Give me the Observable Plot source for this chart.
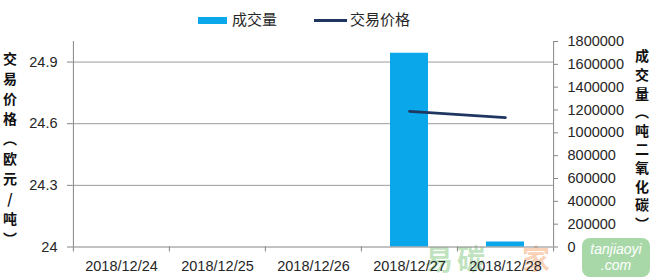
<!DOCTYPE html>
<html>
<head>
<meta charset="utf-8">
<script src="https://cdn.jsdelivr.net/npm/d3@7"></script>
<script src="https://cdn.jsdelivr.net/npm/@observablehq/plot@0.6"></script>
<style>
  html, body { margin: 0; padding: 0; background: #fff; }
  #wrap { position: relative; width: 658px; height: 279px; overflow: hidden;
          font-family: "Liberation Sans", Arial, "Noto Sans CJK SC", sans-serif; }
  #chart { position: absolute; left: 0; top: 0; }
  .legend-text { position: absolute; font-family: "Noto Sans CJK SC", sans-serif;
                 font-size: 15px; color: #262626; line-height: 1; }
  .vtitle { position: absolute; writing-mode: vertical-rl; text-orientation: upright;
            font-family: "Noto Sans CJK SC", sans-serif; font-weight: bold;
            font-size: 14px; color: #111; line-height: 1; }
  .logo { position: absolute; font-family: "Noto Sans CJK SC", sans-serif; font-weight: bold; line-height: 1; }
</style>
</head>
<body>
<div id="wrap">
  <!-- site mark, drawn beneath the chart -->
  <div class="logo" style="left:425px;top:244px;font-size:28px;letter-spacing:4px;color:rgba(110,190,110,0.45);">易碳</div>
  <div class="logo" style="left:522px;top:244px;font-size:28px;color:rgba(240,150,90,0.45);">家</div>
  <div style="position:absolute;left:582px;top:238px;width:68px;height:39px;border-radius:8px;background:rgba(110,190,110,0.6);
              color:#fff;font-family:'Liberation Sans',Arial,sans-serif;font-style:italic;font-size:14px;line-height:16px;text-align:center;padding-top:3px;box-sizing:border-box;">tanjiaoyi<br>.com</div>

  <div id="chart"></div>

  <!-- legend -->
  <div id="legBar" style="position:absolute;left:198px;top:17px;width:29px;height:7px;"></div>
  <div class="legend-text" style="left:232px;top:11px;">成交量</div>
  <div id="legLine" style="position:absolute;left:314px;top:19px;width:33px;height:3px;"></div>
  <div class="legend-text" style="left:350px;top:11px;">交易价格</div>

  <!-- axis titles -->
  <div class="vtitle" style="left:3px;top:52px;letter-spacing:6px;">交易价格（欧元/吨）</div>
  <div class="vtitle" style="left:635px;top:49px;letter-spacing:4.6px;">成交量（吨二氧化碳）</div>
</div>

<script>
// Trading days, volumes (t CO2) and prices (EUR/t); no trades before 12/27
const dates = ["2018/12/24", "2018/12/25", "2018/12/26", "2018/12/27", "2018/12/28"];
const volumes = [0, 0, 0, 1697000, 44000];
const prices = [null, null, null, 24.66, 24.63];

// Axis ticks
const volumeTicks = [0, 200000, 400000, 600000, 800000, 1000000, 1200000, 1400000, 1600000, 1800000];
const priceTicks = [24, 24.3, 24.6, 24.9];
const priceDomain = [24, 25];
const volumeDomain = [0, 1800000];

const barColor = "#0aa8ea";
const lineColor = "#1f3660";
const axisColor = "#868686";
const gridColor = "#9c9c9c";

document.getElementById("legBar").style.background = barColor;
document.getElementById("legLine").style.background = lineColor;

const rows = dates.map((date, i) => ({date, volume: volumes[i], price: prices[i]}));

// The price axis shares the plot's y scale: map price onto the volume range
const priceToY = p => (p - priceDomain[0]) / (priceDomain[1] - priceDomain[0]) * volumeDomain[1];
const yToPrice = v => priceDomain[0] + v / volumeDomain[1] * (priceDomain[1] - priceDomain[0]);

const W = 658, H = 279;
const mL = 72, mR = 105, mT = 41, mB = 32.5;
const bw = (W - mL - mR) / dates.length;

const chart = Plot.plot({
  width: W,
  height: H,
  marginLeft: mL,
  marginRight: mR,
  marginTop: mT,
  marginBottom: mB,
  style: {fontFamily: "'Liberation Sans', Arial, sans-serif", fontSize: "14.5px", color: "#333", background: "transparent", overflow: "visible"},
  x: {type: "band", domain: dates, padding: 0, axis: null, label: null},
  y: {domain: volumeDomain, axis: null, label: null},
  marks: [
    // horizontal gridlines at the price ticks
    Plot.gridY(priceTicks.filter(p => p > priceDomain[0]).map(priceToY), {stroke: gridColor, strokeOpacity: 1}),
    // volume bars
    Plot.barY(rows.filter(d => d.volume > 0), {x: "date", y: "volume", fill: barColor, insetLeft: 29, insetRight: 29}),
    // price line
    Plot.line(rows.filter(d => d.price != null), {x: "date", y: d => priceToY(d.price), stroke: lineColor, strokeWidth: 2.7}),
    // axis lines
    Plot.ruleY([0], {stroke: axisColor}),
    Plot.ruleX([dates[0]], {dx: -bw / 2, stroke: axisColor}),
    Plot.ruleX([dates[dates.length - 1]], {dx: bw / 2, stroke: axisColor}),
    // category labels
    Plot.axisX({tickSize: 0, tickPadding: 14, stroke: axisColor, fill: "#262626", label: null}),
    // tick marks at category boundaries
    Plot.axisX({tickSize: 5, tickFormat: () => "", dx: -bw / 2, stroke: axisColor, label: null}),
    Plot.axisX([dates[dates.length - 1]], {tickSize: 5, tickFormat: () => "", dx: bw / 2, stroke: axisColor, label: null}),
    // left price axis
    Plot.axisY(priceTicks.map(priceToY), {anchor: "left", tickSize: 5, tickPadding: 10, stroke: axisColor, fill: "#262626", label: null,
      tickFormat: v => String(+yToPrice(v).toFixed(1))}),
    // right volume axis
    Plot.axisY(volumeTicks, {anchor: "right", tickSize: 4, tickPadding: 10, stroke: axisColor, fill: "#262626", label: null,
      textAnchor: "start", tickFormat: d3.format("d")})
  ]
});

document.getElementById("chart").appendChild(chart);
</script>
</body>
</html>
